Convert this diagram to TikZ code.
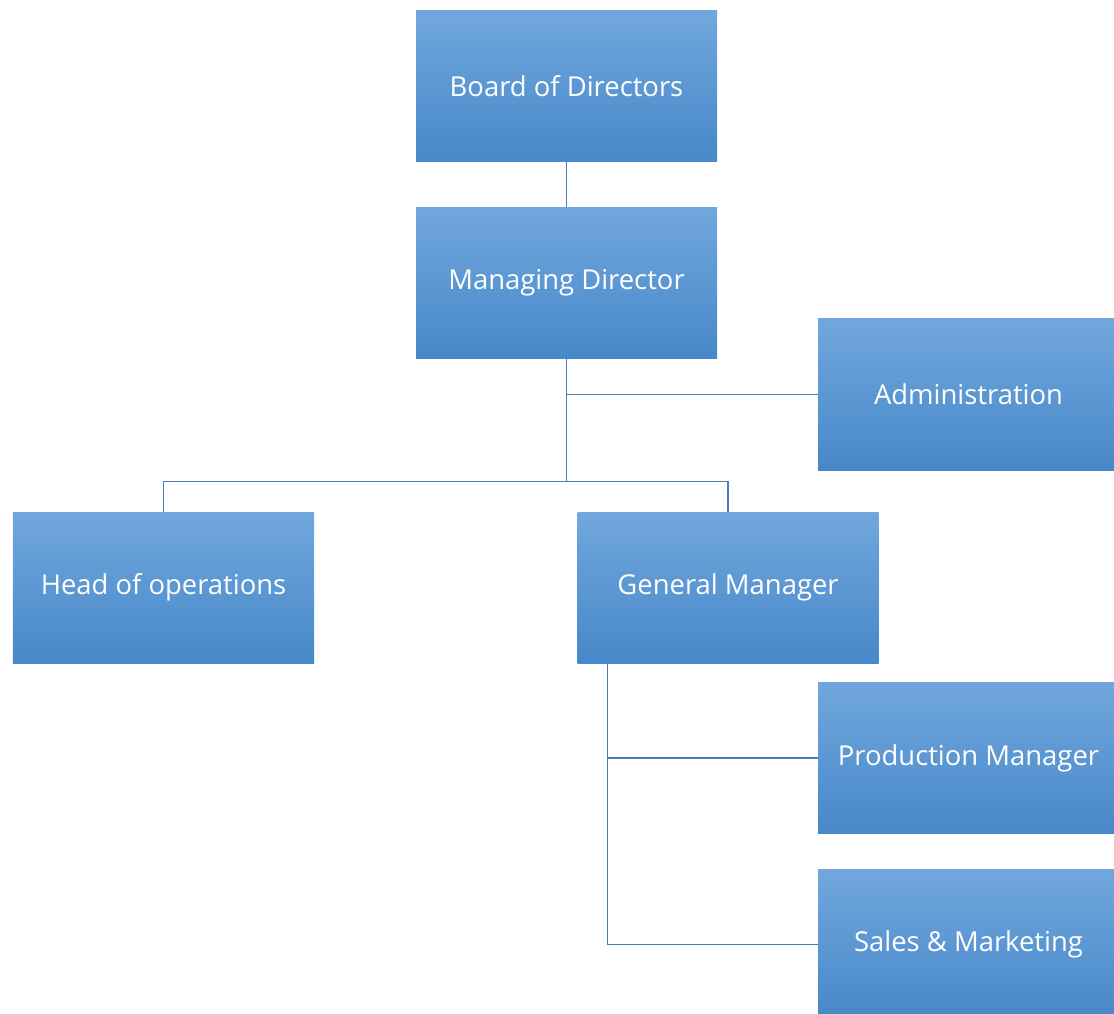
\documentclass[tikz,border=0pt]{standalone}
\usepackage{fontspec}
\setmainfont{Open Sans}
\usepackage{tikz}
\usetikzlibrary{positioning}
\definecolor{boxtop}{HTML}{71A7DD}
\definecolor{boxmid}{HTML}{5B9BD8}
\definecolor{boxbot}{HTML}{4788C9}
\definecolor{linkcol}{HTML}{4A7EBB}
\tikzset{
    %Define style for boxes
    post/.style={
           rectangle,
           top color=boxtop, middle color=boxmid, bottom color=boxbot,
           draw=none,
           minimum width=7.525cm,
           minimum height=3.775cm,
           inner sep=0pt,
           text=white,
           font=\fontsize{19.5}{23}\selectfont},
    % Define connector style
    link/.style={
           draw=linkcol,
           line width=0.9pt}
}
\begin{document}
\begin{tikzpicture}
\useasboundingbox (0,0) rectangle (27.85,-25.35);
%Nodes
\node[post] (board) at (14.1625,-2.1625) {Board of Directors};
\node[post] (md) [below=1.125cm of board] {Managing Director};
\node[post] (admin) at (24.2125,-9.8625) {Administration};
\node[post] (head) at (4.0875,-14.6875) {Head of operations};
\node[post] (gm) [right=6.575cm of head] {General Manager};
\node[post] (prod) at (24.2125,-18.95) {Production Manager};
\node[post] (sales) [below=0.875cm of prod] {Sales \& Marketing};
%Connectors
\coordinate (split) at ([yshift=-3.075cm]md.south);
\coordinate (gmdrop) at ([xshift=0.75cm]gm.south west);
\draw[link] (board) -- (md);
\draw[link] (md.south) -- (split);
\draw[link] (md.south |- admin.west) -- (admin.west);
\draw[link] (head.north) |- (split) -| (gm.north);
\draw[link] (gmdrop) |- (sales.west);
\draw[link] (gmdrop |- prod.west) -- (prod.west);
\end{tikzpicture}
\end{document}
